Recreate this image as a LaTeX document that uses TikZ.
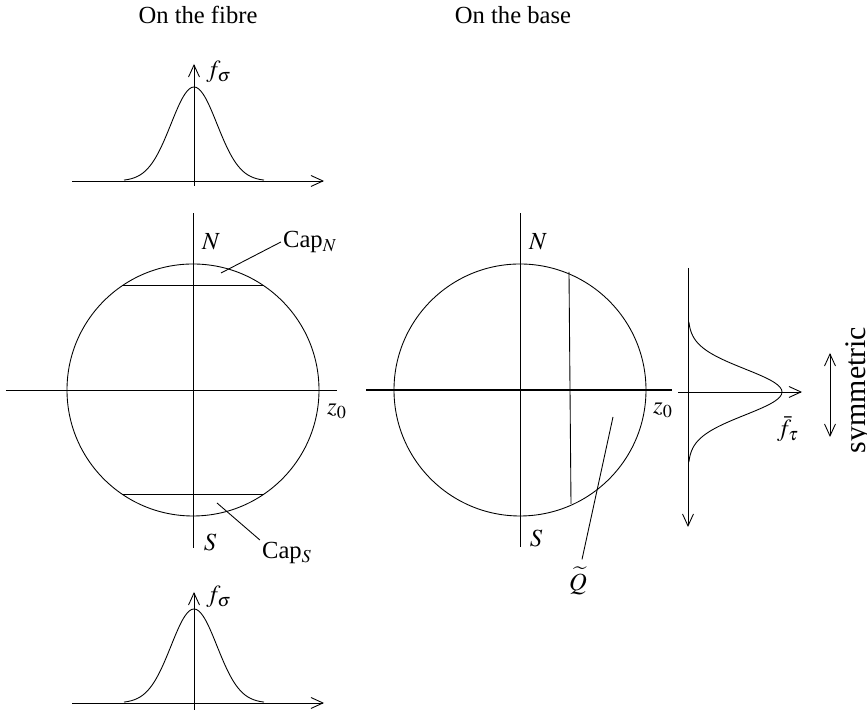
\documentclass[tikz,border=0pt]{standalone}
\usepackage{amsmath,amssymb}
\usepackage{mathptmx}
\usepackage{fontspec}
\setmainfont{Liberation Serif}
\usetikzlibrary{arrows.meta,calc}

\begin{document}
\begin{tikzpicture}[x=0.02cm, y=0.02cm, line width=0.5pt,
  every node/.style={font=\fontsize{14}{17}\selectfont, inner sep=1pt},
  >={Straight Barb[length=2.4mm,width=2.2mm]}]
\useasboundingbox (0,0) rectangle (867,712);
% titles
\node (tfibre) at (198,697) {On the fibre};
\node (tbase) at (513,697) {On the base};

% fibre: sphere with caps
\coordinate (cL) at (193,322);
\draw (cL) circle[radius=126];
\draw (6,322) -- (337,322);
\draw (193,164) -- (193,499);
\draw ($(cL)+(124:126)$) -- ($(cL)+(56:126)$);
\draw ($(cL)+(-124:126)$) -- ($(cL)+(-56:126)$);
\node (nL) at (211,470) {$N$};
\node (sL) at (210,170) {$S$};
\node (zL) at (337,301) {$z_0$};
\coordinate (capN) at (221,439);
\coordinate (capS) at (217,209);
\node (lcapN) at (310,470) {Cap$_N$};
\node (lcapS) at (287,159) {Cap$_S$};
\draw (capN) -- (lcapN.west);
\draw (capS) -- (lcapS.north west);

% fibre: densities
\draw[->] (72,531) -- (324,531);
\draw[->] (194,526) -- (194,648);
\draw plot[smooth, domain=-70:70, samples=61] ({194+\x},{531+94*exp(-(\x)*(\x)/1058)});
\node (ftop) at (219,640) {$f_\sigma$};
\draw[->] (72,9) -- (324,9);
\draw[->] (194,2) -- (194,120);
\draw plot[smooth, domain=-70:70, samples=61] ({194+\x},{9+94*exp(-(\x)*(\x)/1058)});
\node (fbot) at (219,115) {$f_\sigma$};

% base: sphere with region
\coordinate (cR) at (520,322);
\draw (cR) circle[radius=126];
\draw[line width=0.8pt] (366,322) -- (672,322);
\draw (520,165) -- (520,499);
\draw (569,440) -- (571,208);
\node (nR) at (538,470) {$N$};
\node (sR) at (536,174) {$S$};
\node (zR) at (663,302) {$z_0$};
\coordinate (qin) at (613,295);
\node (lQ) at (578,131) {$\widetilde{Q}$};
\draw (qin) -- ([xshift=0.08cm,yshift=3pt]lQ.north);

% base: density
\draw[->] (688,444) -- (688,185);
\draw[->] (678,320) -- (802,320);
\draw plot[smooth, domain=-70:70, samples=61] ({688+94*exp(-(\x)*(\x)/1058)},{320+\x});
\node (ftau) at (788,283) {$\bar f_\tau$};
\draw[<->] (830,275) -- (830,359);
\node[rotate=90, font=\fontsize{17}{20}\selectfont] (sym) at (859,322) {symmetric};
\end{tikzpicture}
\end{document}
